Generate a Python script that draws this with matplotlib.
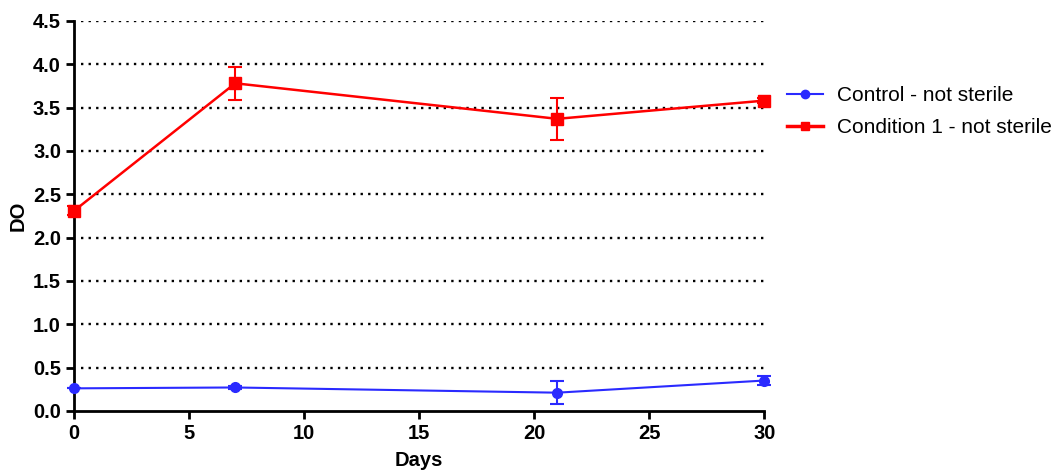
import matplotlib.pyplot as plt
from matplotlib.lines import Line2D

plt.rcParams['font.family'] = ['Liberation Sans', 'DejaVu Sans']

days = [0, 7, 21, 30]
control = [0.26, 0.27, 0.21, 0.35]
control_err = [0.0, 0.02, 0.13, 0.05]
cond1 = [2.31, 3.78, 3.37, 3.58]
cond1_err = [0.05, 0.19, 0.24, 0.03]
yticks = [0.0, 0.5, 1.0, 1.5, 2.0, 2.5, 3.0, 3.5, 4.0, 4.5]
xticks = [0, 5, 10, 15, 20, 25, 30]

blue = '#2a2aff'
red = '#ff0000'

fig = plt.figure(figsize=(10.6, 4.75), dpi=100)
ax = fig.add_axes([0.07, 0.135, 0.651, 0.821])

for y in yticks[1:]:
    ax.axhline(y, xmin=0.01, color='black', linestyle=(0, (1, 2.2)), linewidth=1.7, zorder=0)

ax.errorbar(days, control, yerr=control_err, color=blue, marker='o', markersize=7,
            linewidth=1.5, capsize=5, capthick=1.5, elinewidth=1.5,
            clip_on=False, zorder=3)
ax.errorbar(days, cond1, yerr=cond1_err, color=red, marker='s', markersize=8,
            linewidth=1.8, capsize=5, capthick=1.5, elinewidth=1.5,
            clip_on=False, zorder=3)

ax.set_xlim(0, 30)
ax.set_ylim(0, 4.5)
ax.set_xticks(xticks)
ax.set_yticks(yticks)
ax.set_yticklabels([f'{v:.1f}' for v in yticks])
ax.spines['top'].set_visible(False)
ax.spines['right'].set_visible(False)
ax.spines['left'].set_linewidth(2)
ax.spines['bottom'].set_linewidth(2)
ax.tick_params(width=2, length=6, labelsize=14.5, direction='out')
for lab in ax.get_xticklabels() + ax.get_yticklabels():
    lab.set_fontweight('bold')

ax.set_xlabel('Days', fontsize=14.5, fontweight='bold', labelpad=6)
ax.set_ylabel('DO', fontsize=14.5, fontweight='bold', labelpad=4)

handles = [Line2D([], [], color=blue, marker='o', markersize=6, linewidth=1.5),
           Line2D([], [], color=red, marker='s', markersize=6, linewidth=2.5)]
ax.legend(handles, ['Control - not sterile', 'Condition 1 - not sterile'],
          loc='upper left', bbox_to_anchor=(1.006, 0.88), frameon=False, fontsize=15,
          handlelength=1.7, handletextpad=0.7, labelspacing=0.62)

fig.savefig('out.png', dpi=100)
